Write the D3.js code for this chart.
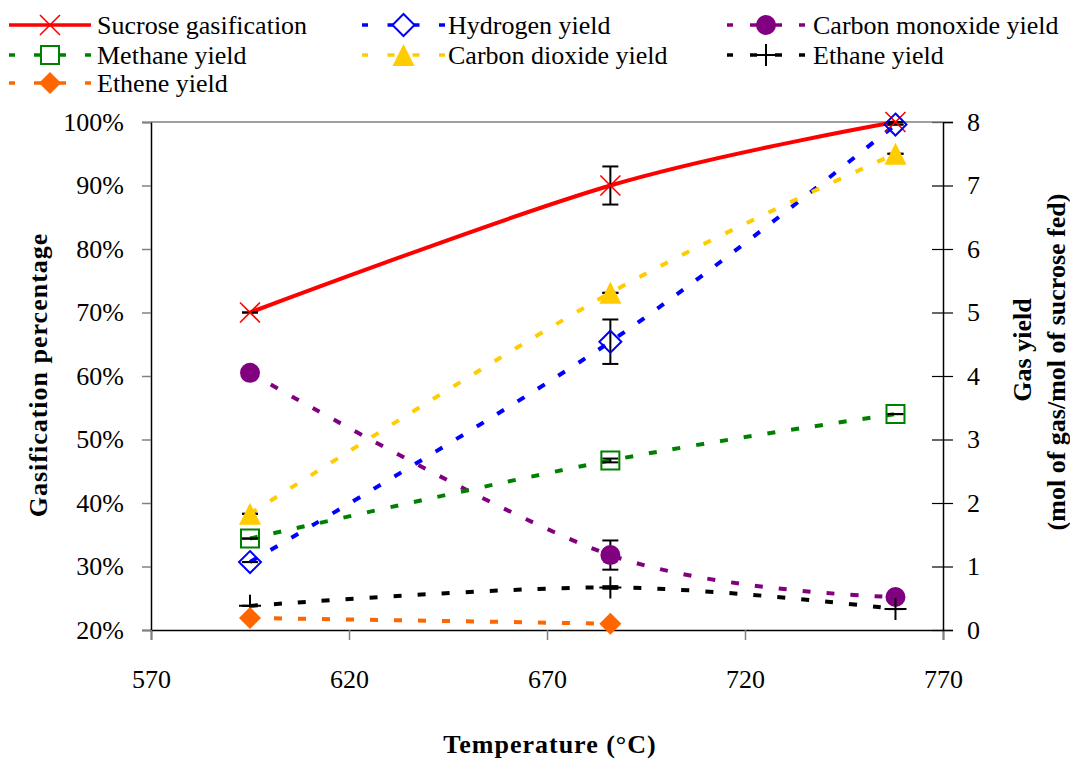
<!DOCTYPE html>
<html>
<head>
<meta charset="utf-8">
<script src="https://cdn.jsdelivr.net/npm/d3@7"></script>
<style>
  body { margin: 0; background: #fff; }
  svg { display: block; }
  svg text { font-family: "Liberation Serif", "DejaVu Serif", serif; }
</style>
</head>
<body>
<svg id="chart" width="1070" height="761"></svg>
<script>
// values
const temps = [595, 686, 758];
const sucrose = [0.70, 0.90, 1.00];
const sucroseErr = [0, 0.03, 0];
const hydrogen = [1.07, 4.54, 7.96];
const hydrogenErr = [0, 0.35, 0];
const carbonMonoxide = [4.05, 1.18, 0.52];
const carbonMonoxideErr = [0, 0.23, 0];
const methane = [1.44, 2.67, 3.40];
const methaneErr = [0, 0.03, 0];
const carbonDioxide = [1.83, 5.31, 7.50];
const carbonDioxideErr = [0, 0, 0];
const ethane = [0.38, 0.67, 0.33];
const ethaneErr = [0, 0.02, 0];
const ethene = [0.19, 0.10];
const etheneErr = [0, 0.02];

const xTicks = [570, 620, 670, 720, 770];
const leftTicks = [0.2, 0.3, 0.4, 0.5, 0.6, 0.7, 0.8, 0.9, 1.0];
const rightTicks = [0, 1, 2, 3, 4, 5, 6, 7, 8];

const PLOT_LEFT = 151;
const PLOT_RIGHT = 943;
const PLOT_TOP = 122;
const PLOT_BOTTOM = 630;
const FONT = '"Liberation Serif", "DejaVu Serif", serif';

const svg = d3.select('#chart');

const x = d3.scaleLinear().domain([570, 770]).range([PLOT_LEFT, PLOT_RIGHT]);
const yLeft = d3.scaleLinear().domain([0.2, 1]).range([PLOT_BOTTOM, PLOT_TOP]);
const yRight = d3.scaleLinear().domain([0, 8]).range([PLOT_BOTTOM, PLOT_TOP]);

// marker shapes
const markerPath = {
  cross: 'M-10,-10L10,10M-10,10L10,-10',
  diamond: 'M0,-11L11,0L0,11L-11,0Z',
  circle: 'M10,0A10,10 0 1,1 -10,0A10,10 0 1,1 10,0Z',
  square: 'M-9,-9H9V9H-9Z',
  triangle: 'M0,-11L11,11L-11,11Z',
  plus: 'M-11,0H11M0,-11V11',
};

const series = [
  { name: 'Sucrose gasification', values: sucrose, err: sucroseErr, axis: yLeft,
    color: '#FF0000', dashed: false, marker: 'cross', fill: 'none', mStroke: 1.6 },
  { name: 'Hydrogen yield', values: hydrogen, err: hydrogenErr, axis: yRight,
    color: '#0000FF', dashed: true, marker: 'diamond', fill: 'none', mStroke: 2 },
  { name: 'Carbon monoxide yield', values: carbonMonoxide, err: carbonMonoxideErr, axis: yRight,
    color: '#800080', dashed: true, marker: 'circle', fill: '#800080', mStroke: 0 },
  { name: 'Methane yield', values: methane, err: methaneErr, axis: yRight,
    color: '#008000', dashed: true, marker: 'square', fill: 'none', mStroke: 2 },
  { name: 'Carbon dioxide yield', values: carbonDioxide, err: carbonDioxideErr, axis: yRight,
    color: '#FFCC00', dashed: true, marker: 'triangle', fill: '#FFCC00', mStroke: 0 },
  { name: 'Ethane yield', values: ethane, err: ethaneErr, axis: yRight,
    color: '#000000', dashed: true, marker: 'plus', fill: 'none', mStroke: 2 },
  { name: 'Ethene yield', values: ethene, err: etheneErr, axis: yRight,
    color: '#FF6600', dashed: true, marker: 'diamond', fill: '#FF6600', mStroke: 0 },
];

series.forEach(s => {
  s.points = s.values.map((v, i) => ({ t: temps[i], v, e: s.err[i] }));
});

// axes
const leftAxis = svg.append('g')
  .attr('transform', `translate(${PLOT_LEFT},0)`)
  .call(d3.axisLeft(yLeft).tickValues(leftTicks).tickFormat(d3.format('.0%'))
    .tickSize(9).tickPadding(18));

const bottomAxis = svg.append('g')
  .attr('transform', `translate(0,${PLOT_BOTTOM})`)
  .call(d3.axisBottom(x).tickValues(xTicks).tickFormat(d3.format('d'))
    .tickSize(10).tickPadding(30));

const rightAxis = svg.append('g')
  .attr('transform', `translate(${PLOT_RIGHT},0)`)
  .call(d3.axisRight(yRight).tickValues(rightTicks).tickFormat(d3.format('d'))
    .tickSize(10).tickPadding(14));

[leftAxis, bottomAxis].forEach(g => {
  g.select('.domain').attr('stroke', '#000').attr('stroke-width', 1.5);
  g.selectAll('.tick line').attr('stroke', '#808080').attr('stroke-width', 1.5);
});
rightAxis.select('.domain').attr('stroke', '#000').attr('stroke-width', 1.5);
rightAxis.selectAll('.tick line').attr('x1', -11).attr('x2', 10)
  .attr('stroke', '#000').attr('stroke-width', 1.2);

[leftAxis, bottomAxis, rightAxis].forEach(g => {
  g.attr('font-family', FONT).attr('font-size', 26);
  g.selectAll('.tick text').attr('fill', '#000');
});

// top border
svg.append('line')
  .attr('x1', PLOT_LEFT).attr('x2', PLOT_RIGHT)
  .attr('y1', PLOT_TOP).attr('y2', PLOT_TOP)
  .attr('stroke', '#808080').attr('stroke-width', 1.5);

// lines
const plot = svg.append('g');
series.forEach(s => {
  const line = d3.line()
    .x(d => x(d.t))
    .y(d => s.axis(d.v))
    .curve(d3.curveCatmullRom.alpha(0));
  plot.append('path')
    .datum(s.points)
    .attr('d', line)
    .attr('fill', 'none')
    .attr('stroke', s.color)
    .attr('stroke-width', 4)
    .attr('stroke-dasharray', s.dashed ? '8,16' : null);
});

// error bars
series.forEach(s => {
  const g = plot.append('g').attr('stroke', '#000').attr('stroke-width', 2);
  s.points.forEach(d => {
    const cx = x(d.t);
    const top = s.axis(d.v + d.e);
    const bot = s.axis(d.v - d.e);
    if (d.e > 0) {
      g.append('line').attr('x1', cx).attr('x2', cx).attr('y1', top).attr('y2', bot);
    }
    g.append('line').attr('x1', cx - 8).attr('x2', cx + 8).attr('y1', top).attr('y2', top);
    g.append('line').attr('x1', cx - 8).attr('x2', cx + 8).attr('y1', bot).attr('y2', bot);
  });
});

// markers
series.forEach(s => {
  plot.append('g')
    .selectAll('path')
    .data(s.points)
    .join('path')
    .attr('transform', d => `translate(${x(d.t)},${s.axis(d.v)})`)
    .attr('d', markerPath[s.marker])
    .attr('fill', s.fill)
    .attr('stroke', s.mStroke ? s.color : 'none')
    .attr('stroke-width', s.mStroke);
});

// legend
const legendCols = [{ x0: 9, x1: 91, tx: 97 }, { x0: 362, x1: 445, tx: 448 }, { x0: 727, x1: 805, tx: 813 }];
const legendRows = [25, 55, 83];
series.forEach((s, i) => {
  const col = legendCols[i % 3];
  const cy = legendRows[Math.floor(i / 3)];
  const cx = (col.x0 + col.x1) / 2;
  const g = svg.append('g');
  if (!s.dashed) {
    g.append('line').attr('x1', col.x0).attr('x2', col.x1).attr('y1', cy).attr('y2', cy)
      .attr('stroke', s.color).attr('stroke-width', 3.5);
  } else {
    const half = (col.x1 - col.x0) / 2;
    [[-half, -half + 6], [-16, -9], [9, 16], [half - 6, half]].forEach(seg => {
      g.append('line').attr('x1', cx + seg[0]).attr('x2', cx + seg[1]).attr('y1', cy).attr('y2', cy)
        .attr('stroke', s.color).attr('stroke-width', 3.5);
    });
  }
  g.append('path')
    .attr('transform', `translate(${cx},${cy})`)
    .attr('d', markerPath[s.marker])
    .attr('fill', s.fill === 'none' ? '#fff' : s.fill)
    .attr('stroke', s.mStroke ? s.color : 'none')
    .attr('stroke-width', s.mStroke);
  g.append('text')
    .attr('x', col.tx).attr('y', cy + 9)
    .attr('font-size', 26)
    .text(s.name);
});

// axis titles
svg.append('text')
  .attr('x', 550).attr('y', 753)
  .attr('text-anchor', 'middle')
  .attr('font-size', 26).attr('font-weight', 'bold')
  .attr('letter-spacing', 1)
  .text('Temperature (°C)');

svg.append('text')
  .attr('transform', 'translate(47,375) rotate(-90)')
  .attr('text-anchor', 'middle')
  .attr('font-size', 26).attr('font-weight', 'bold')
  .attr('letter-spacing', 1)
  .text('Gasification percentage');

svg.append('text')
  .attr('transform', 'translate(1031,350) rotate(-90)')
  .attr('text-anchor', 'middle')
  .attr('font-size', 26).attr('font-weight', 'bold')
  .text('Gas yield');

svg.append('text')
  .attr('transform', 'translate(1065,362) rotate(-90)')
  .attr('text-anchor', 'middle')
  .attr('font-size', 26).attr('font-weight', 'bold')
  .text('(mol of gas/mol of sucrose fed)');
</script>
</body>
</html>
